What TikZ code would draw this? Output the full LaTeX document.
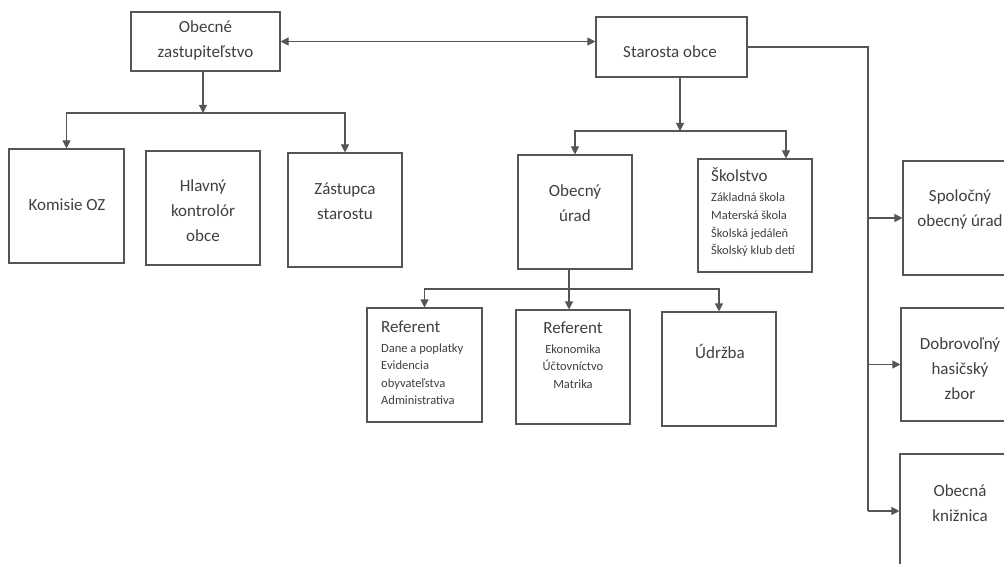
\documentclass[tikz,border=0pt]{standalone}
\usepackage{fontspec}
\setmainfont{Carlito}
\usetikzlibrary{arrows.meta}
\definecolor{ln}{HTML}{555555}
\definecolor{tx}{HTML}{404040}
\begin{document}
\begin{tikzpicture}[x=1pt,y=-1pt,
  box/.style={draw=ln,line width=1.1pt,inner sep=0pt,minimum width=114,minimum height=114},
  big/.style={font=\fontsize{17}{25}\selectfont,text=tx,align=center,inner sep=0pt},
  small/.style={font=\fontsize{12.5}{17.5}\selectfont,text=tx,inner sep=0pt},
  con/.style={draw=ln,line width=1.1pt},
  arr/.style={con,-{Triangle[width=8pt,length=8pt]}},
  darr/.style={con,{Triangle[width=8pt,length=8pt]}-{Triangle[width=8pt,length=8pt]}}]
\useasboundingbox (0,0) rectangle (1004,564);
\clip (0,0) rectangle (1004,564);
\fill[white] (0,0) rectangle (1004,564);
% boxes
\node[box,minimum width=149,minimum height=59] (oz) at (205.5,41.5) {};
\node[box,minimum width=151,minimum height=60] (so) at (671.5,47) {};
\node[box,minimum width=115] (kom) at (66.5,206) {};
\node[box] (hk) at (203,208) {};
\node[box] (zas) at (345,210) {};
\node[box] (ou) at (575,212) {};
\node[box,minimum height=113] (sk) at (755,215.5) {};
\node[box,minimum width=115] (r1) at (424.5,365) {};
\node[box] (r2) at (573,367) {};
\node[box] (ud) at (719,369) {};
\node[box] (sp) at (960,218) {};
\node[box,minimum height=113] (dh) at (958,364.5) {};
\node[box] (ok) at (957,511) {};
% texts
\node[big] (tOZ) at (205.5,40) {Obecné\\zastupiteľstvo};
\node[big] (tSO) at (670,52) {Starosta obce};
\node[big] (tKom) at (67,205) {Komisie OZ};
\node[big] (tHK) at (203,211) {Hlavný\\kontrolór\\obce};
\node[big] (tZas) at (345,201) {Zástupca\\starostu};
\node[big] (tOU) at (575,203) {Obecný\\úrad};
\node[big] (tSp) at (960,209.5) {Spoločný\\obecný úrad};
\node[big] (tDH) at (960,369) {Dobrovoľný\\hasičský\\zbor};
\node[big] (tOK) at (960,503) {Obecná\\knižnica};
\node[big] (tUd) at (720,351) {Údržba};
% Školstvo list
\node[big,anchor=base west] (sk0) at (711,182) {Školstvo};
\node[small,anchor=base west] (sk1) at (711,202) {Základná škola};
\node[small,anchor=base west] (sk2) at (711,219.5) {Materská škola};
\node[small,anchor=base west] (sk3) at (711,237) {Školská jedáleň};
\node[small,anchor=base west] (sk4) at (711,254.5) {Školský klub detí};
% Referent 1
\node[big,anchor=base west] (ra0) at (381,332) {Referent};
\node[small,anchor=base west] (ra1) at (381,352) {Dane a poplatky};
\node[small,anchor=base west] (ra2) at (381,369.5) {Evidencia};
\node[small,anchor=base west] (ra3) at (381,387) {obyvateľstva};
\node[small,anchor=base west] (ra4) at (381,404.5) {Administrativa};
% Referent 2
\node[big,anchor=base] (rb0) at (573,333) {Referent};
\node[small,anchor=base] (rb1) at (573,353) {Ekonomika};
\node[small,anchor=base] (rb2) at (573,370.5) {Účtovníctvo};
\node[small,anchor=base] (rb3) at (573,388) {Matrika};
% connectors
\draw[darr] (oz.east) -- (oz.east -| so.west);
\coordinate (j1) at (203,113);
\draw[arr] (j1 |- oz.south) -- (j1);
\draw[arr] (j1) -| (kom.north);
\draw[arr] (j1) -| (zas.north);
\coordinate (j2) at (680,131);
\coordinate (j2r) at (786,131);
\draw[arr] (j2 |- so.south) -- (j2);
\draw[arr] (j2) -| (ou.north);
\draw[arr] (j2) -| (j2r |- sk.north);
\coordinate (j3) at (569,289);
\draw[con] (j3 |- ou.south) -- (j3);
\draw[arr] (j3) -- (j3 |- r2.north);
\draw[arr] (j3) -| (r1.north);
\draw[arr] (j3) -| (ud.north);
\coordinate (bx) at (868,47);
\draw[con] (so.east) -- (bx) -- (bx |- ok.west);
\draw[arr] (bx |- sp.west) -- (sp.west);
\draw[arr] (bx |- dh.west) -- (dh.west);
\draw[arr] (bx |- ok.west) -- (ok.west);
\end{tikzpicture}
\end{document}
